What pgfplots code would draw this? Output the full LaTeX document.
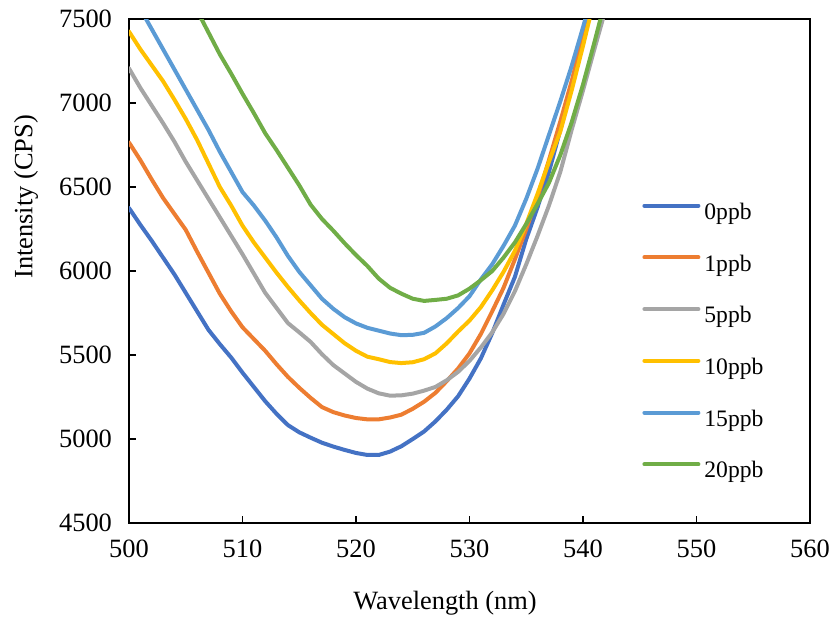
\documentclass[border=0pt]{standalone}
\usepackage{fontspec}
\setmainfont{Liberation Serif}
\usepackage{pgfplots}
\pgfplotsset{compat=1.18}
\definecolor{cA}{HTML}{4472C4}
\definecolor{cB}{HTML}{ED7D31}
\definecolor{cC}{HTML}{A5A5A5}
\definecolor{cD}{HTML}{FFC000}
\definecolor{cE}{HTML}{5B9BD5}
\definecolor{cF}{HTML}{70AD47}
\begin{document}
\begin{tikzpicture}
\begin{axis}[
  name=ax, scale only axis, width=340.5pt, height=252pt,
  xmin=500, xmax=560, ymin=4500, ymax=7500,
  xtick={500,510,...,560}, ytick={4500,5000,...,7500},
  tick align=inside, tick pos=left, major tick length=3.5pt,
  axis line style={line width=1pt},
  every tick/.style={black, line width=0.8pt},
  tick label style={font=\fontsize{13.2}{15}\selectfont},
  /pgf/number format/assume math mode=true,
  /pgf/number format/1000 sep={},
  yticklabel style={xshift=-5pt},
  xticklabel style={yshift=-5pt},
  xlabel={Wavelength (nm)}, ylabel={Intensity (CPS)},
  label style={font=\fontsize{13.2}{15}\selectfont},
  xlabel style={at={(axis description cs:0.464,-0.1587)}, anchor=center},
  ylabel style={at={(axis description cs:-0.1513,0.647)}, anchor=center},
  legend style={draw=none, fill=none, at={(axis description cs:0.7533,0.639)}, anchor=north west,
    inner sep=0pt, row sep=13.85pt, column sep=2pt, font=\fontsize{11.8}{14}\selectfont,
    nodes={inner sep=0pt, text height=9pt, text depth=3pt}},
  legend cell align=left,
  legend image code/.code={\draw[#1, line width=2pt] (0pt,3.8pt) -- (27pt,3.8pt);},
  every axis plot/.append style={line width=2pt, line cap=round, line join=round},
]
\addplot[cA] coordinates {
(500,6375)(501,6275)(502,6180)(503,6080)(504,5980)(505,5870)(506,5760)(507,5650)(508,5565)(509,5485)
(510,5395)(511,5310)(512,5225)(513,5150)(514,5083)(515,5040)(516,5008)(517,4978)(518,4955)(519,4935)
(520,4917)(521,4905)(522,4905)(523,4925)(524,4957)(525,5000)(526,5045)(527,5105)(528,5175)(529,5255)
(530,5360)(531,5480)(532,5630)(533,5800)(534,5965)(535,6190)(536,6380)(537,6590)(538,6840)(539,7100)
(540,7370)(541,7640)};
\addlegendentry{0ppb}
\addplot[cB] coordinates {
(500,6765)(501,6660)(502,6545)(503,6435)(504,6340)(505,6245)(506,6115)(507,5990)(508,5865)(509,5760)
(510,5665)(511,5595)(512,5525)(513,5445)(514,5370)(515,5305)(516,5245)(517,5190)(518,5160)(519,5140)
(520,5125)(521,5117)(522,5117)(523,5128)(524,5145)(525,5180)(526,5222)(527,5275)(528,5345)(529,5420)
(530,5510)(531,5625)(532,5760)(533,5900)(534,6070)(535,6250)(536,6440)(537,6660)(538,6890)(539,7130)
(540,7400)(541,7660)};
\addlegendentry{1ppb}
\addplot[cC] coordinates {
(500,7206)(501,7090)(502,6985)(503,6880)(504,6770)(505,6650)(506,6540)(507,6430)(508,6320)(509,6210)
(510,6100)(511,5985)(512,5870)(513,5780)(514,5690)(515,5635)(516,5578)(517,5505)(518,5440)(519,5390)
(520,5340)(521,5300)(522,5272)(523,5258)(524,5260)(525,5270)(526,5288)(527,5310)(528,5350)(529,5400)
(530,5465)(531,5545)(532,5635)(533,5745)(534,5880)(535,6040)(536,6210)(537,6390)(538,6590)(539,6840)
(540,7075)(541,7320)(542,7560)};
\addlegendentry{5ppb}
\addplot[cD] coordinates {
(500,7425)(501,7320)(502,7225)(503,7130)(504,7020)(505,6905)(506,6780)(507,6640)(508,6500)(509,6390)
(510,6270)(511,6170)(512,6080)(513,5990)(514,5905)(515,5825)(516,5750)(517,5680)(518,5625)(519,5570)
(520,5525)(521,5490)(522,5475)(523,5458)(524,5452)(525,5457)(526,5475)(527,5510)(528,5570)(529,5640)
(530,5705)(531,5785)(532,5885)(533,5995)(534,6120)(535,6280)(536,6460)(537,6650)(538,6830)(539,7075)
(540,7340)(541,7620)};
\addlegendentry{10ppb}
\addplot[cE] coordinates {
(500,7680)(501,7560)(502,7440)(503,7320)(504,7200)(505,7080)(506,6960)(507,6840)(508,6710)(509,6590)
(510,6470)(511,6390)(512,6300)(513,6200)(514,6090)(515,5995)(516,5915)(517,5835)(518,5775)(519,5725)
(520,5688)(521,5662)(522,5645)(523,5628)(524,5618)(525,5620)(526,5632)(527,5670)(528,5720)(529,5780)
(530,5850)(531,5950)(532,6040)(533,6150)(534,6270)(535,6430)(536,6610)(537,6810)(538,7010)(539,7220)
(540,7450)(541,7690)};
\addlegendentry{15ppb}
\addplot[cF] coordinates {
(500,8340)(502,8080)(504,7820)(505,7680)(506,7550)(507,7420)(508,7290)(509,7175)
(510,7055)(511,6940)(512,6820)(513,6720)(514,6615)(515,6510)(516,6395)(517,6310)(518,6240)(519,6165)
(520,6095)(521,6030)(522,5955)(523,5900)(524,5865)(525,5835)(526,5822)(527,5828)(528,5835)(529,5855)
(530,5895)(531,5945)(532,6000)(533,6080)(534,6170)(535,6280)(536,6400)(537,6525)(538,6690)(539,6885)
(540,7110)(541,7360)(542,7620)};
\addlegendentry{20ppb}
\end{axis}
\pgfresetboundingbox
\path[use as bounding box] ([xshift=-64.5pt,yshift=-46.5pt]ax.south west) rectangle ([xshift=10pt,yshift=9.5pt]ax.north east);
\end{tikzpicture}
\end{document}
